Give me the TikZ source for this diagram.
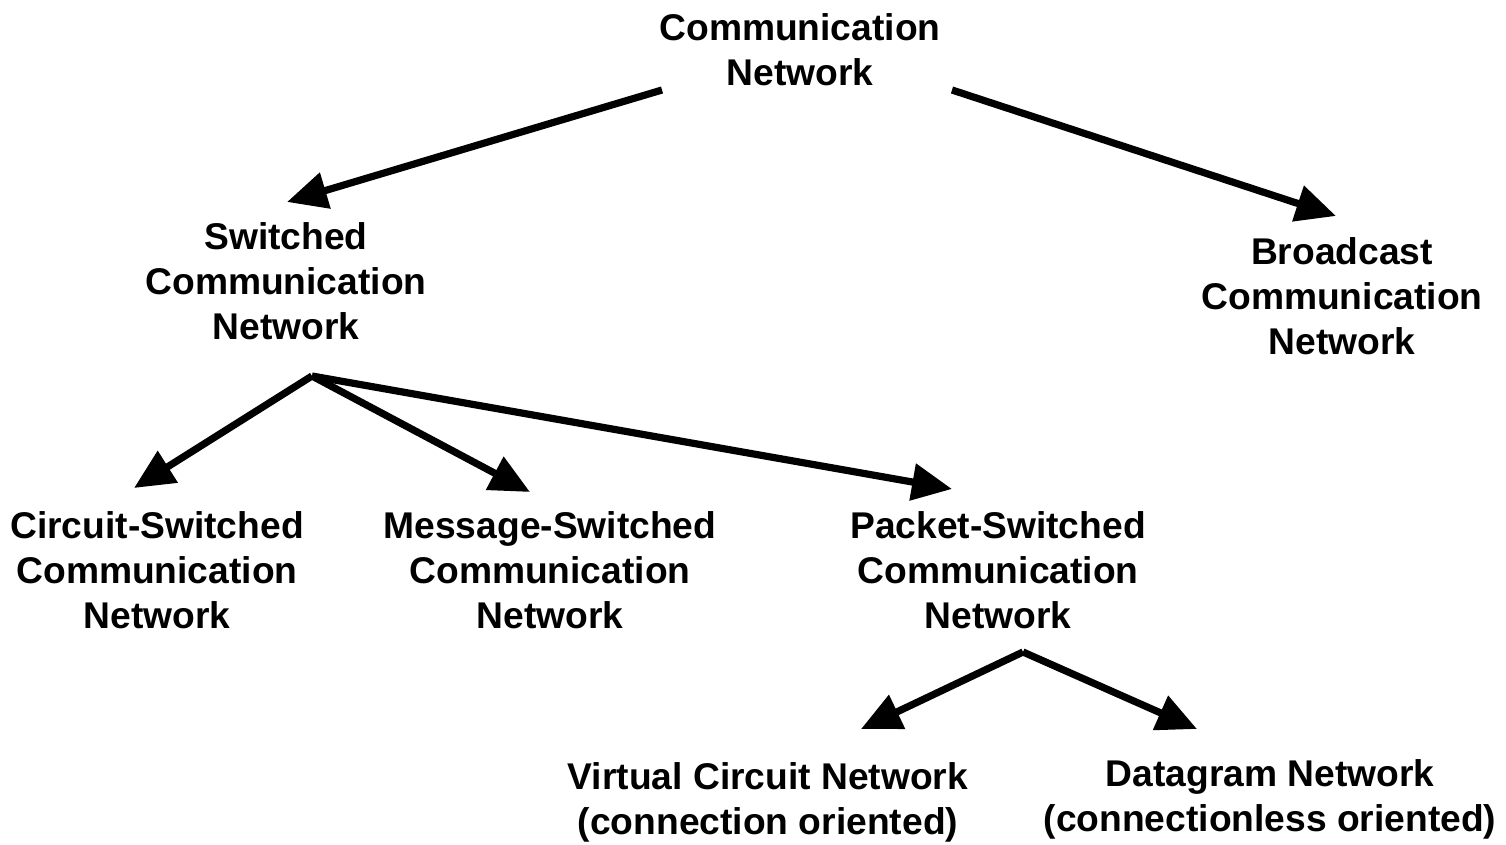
\documentclass[tikz,border=0pt]{standalone}
\usepackage{fontspec}
\setmainfont{Liberation Sans}
\usetikzlibrary{arrows.meta}
\begin{document}
\begin{tikzpicture}[x=0.5pt,y=-0.5pt,
  lbl/.style={align=center,inner sep=0pt,font=\fontsize{18.6}{22.6}\selectfont\bfseries},
  arr/.style={line width=3.6pt,-{Triangle[length=20pt,width=18pt]}}]
\useasboundingbox (0,0) rectangle (1506,845);
\node[lbl] (cn) at (800,50) {Communication\\Network};
\node[lbl] (sw) at (286,281) {Switched\\Communication\\Network};
\node[lbl] (bc) at (1342,296) {Broadcast\\Communication\\Network};
\node[lbl] (cs) at (157,570) {Circuit-Switched\\Communication\\Network};
\node[lbl] (ms) at (550,570) {Message-Switched\\Communication\\Network};
\node[lbl] (ps) at (998,570) {Packet-Switched\\Communication\\Network};
\node[lbl] (vc) at (768,802) {Virtual Circuit Network\\(connection oriented)};
\node[lbl] (dg) at (1270,799) {Datagram Network\\(connectionless oriented)};
\coordinate (cnL) at (662,90);
\coordinate (cnR) at (952,90);
\coordinate (swIn) at (287,202);
\coordinate (bcIn) at (1336,216);
\coordinate (swOut) at (312,376);
\coordinate (csIn) at (134,488);
\coordinate (msIn) at (530,492);
\coordinate (psIn) at (952,489);
\coordinate (psOut) at (1023,652);
\coordinate (vcIn) at (861,729);
\coordinate (dgIn) at (1197,729);
\draw[arr] (cnL) -- (swIn);
\draw[arr] (cnR) -- (bcIn);
\draw[arr] (swOut) -- (csIn);
\draw[arr] (swOut) -- (msIn);
\draw[arr] (swOut) -- (psIn);
\draw[arr] (psOut) -- (vcIn);
\draw[arr] (psOut) -- (dgIn);
\end{tikzpicture}
\end{document}
